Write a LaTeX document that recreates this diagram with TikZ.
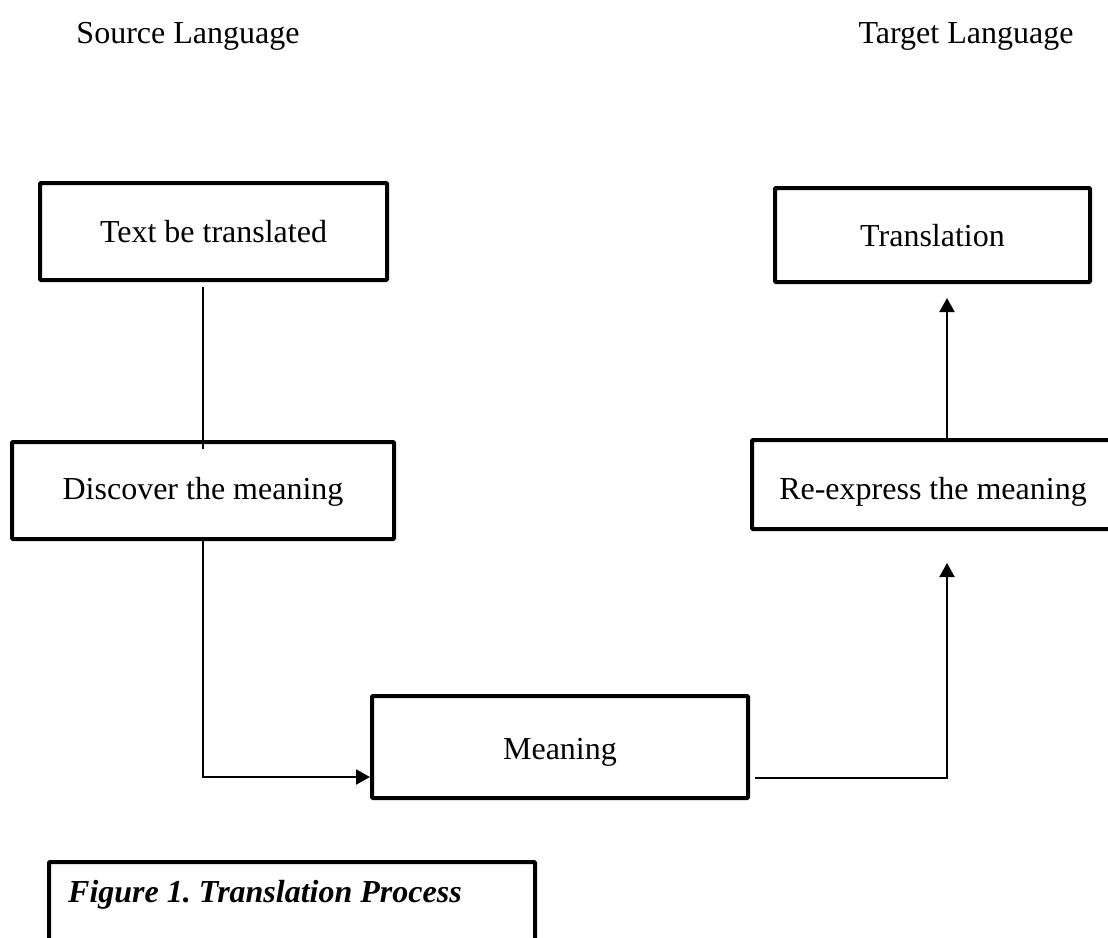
\documentclass[tikz,border=0pt]{standalone}
\usepackage{fontspec}
\setmainfont{Liberation Serif}
\usetikzlibrary{arrows.meta}
\frenchspacing
\begin{document}
\begin{tikzpicture}[x=1pt,y=-1pt,
  every node/.style={font=\fontsize{32}{38}\selectfont, inner sep=0pt},
  box/.style={draw, line width=4pt, rounded corners=1pt},
  conn/.style={line width=2pt},
  arr/.style={line width=2pt, -{Triangle[length=14pt,width=15pt]}}]
\useasboundingbox (0,0) rectangle (1108,937);
\fill[white] (0,0) rectangle (1108,937);

\node[anchor=base] (src) at (188,43) {Source Language};
\node[anchor=base] (tgt) at (966,43) {Target Language};

\node[box, minimum width=347, minimum height=97, text height=25pt, text depth=4pt] (text) at (213.5,231.5) {Text be translated};
\node[box, minimum width=382, minimum height=97, text height=25pt, text depth=8pt] (disc) at (203,490.5) {Discover the meaning};
\node[box, minimum width=315, minimum height=94, text height=26pt, text depth=4pt] (trans) at (932.5,235) {Translation};
\node[box, minimum width=362, minimum height=89, text height=33pt, text depth=4pt] (reex) at (933,484.5) {Re-express the meaning};
\node[box, minimum width=376, minimum height=102, text height=28pt, text depth=4pt] (mean) at (560,747) {Meaning};

\node[box, minimum width=486, minimum height=120, anchor=north west] (capbox) at (47,860) {};
\node[anchor=base west, font=\fontsize{32}{38}\selectfont\bfseries\itshape] (cap) at (68,902) {Figure 1. Translation Process};

\coordinate (tip2) at (947,563);

\draw[conn] ([yshift=-5pt]text.south -| disc.north) -- ([yshift=-9pt]disc.north);
\draw[arr] (disc.south) |- ([yshift=-30pt]mean.west);
\draw[arr] ([xshift=5pt,yshift=-31pt]mean.east) -| (tip2);
\draw[arr] ([xshift=14pt]reex.north) -- ([xshift=14.5pt,yshift=-14pt]trans.south);
\end{tikzpicture}
\end{document}
